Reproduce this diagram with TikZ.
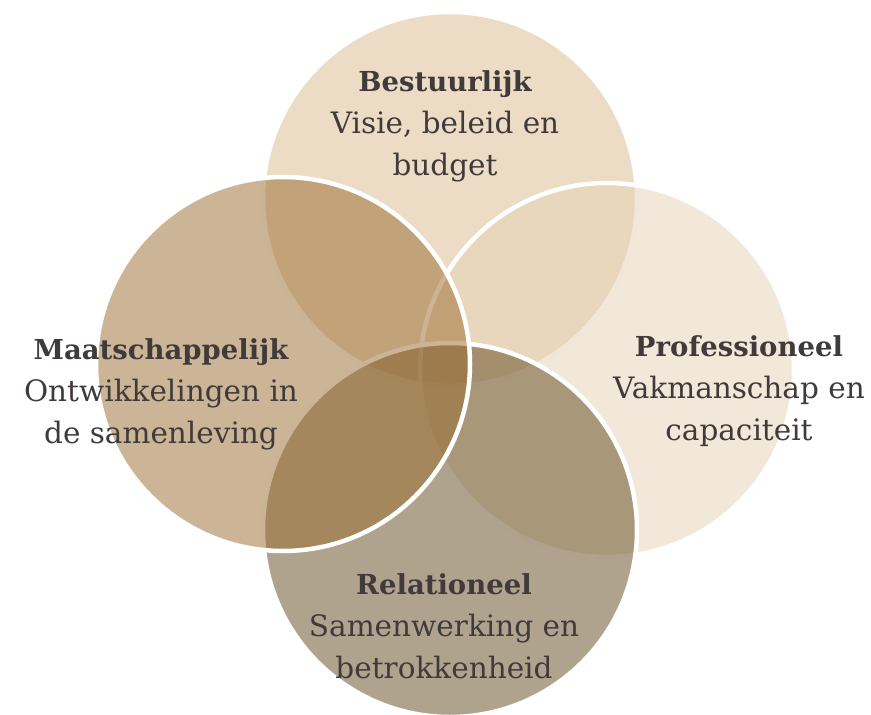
\documentclass[tikz,border=0pt]{standalone}
\usepackage{fontspec}
\setmainfont{DejaVu Serif}

\definecolor{inkgrey}{HTML}{403B3A}
\definecolor{bestuurcol}{HTML}{D9B98D}
\definecolor{profcol}{HTML}{E5D1B5}
\definecolor{relcol}{HTML}{61471D}
\definecolor{maatcol}{HTML}{996B2D}

\newcommand{\headline}[1]{{\fontsize{27.5}{42}\selectfont\bfseries #1}}

\tikzset{
  disc/.style={circle, draw=white, line width=4.5pt, fill opacity=0.5,
    minimum size=374pt, inner sep=0pt},
  blurb/.style={text=inkgrey, align=center, anchor=base,
    font=\fontsize{29.5}{42}\selectfont},
}

\begin{document}
\begin{tikzpicture}[x=1pt, y=-1pt]
  \useasboundingbox (0,0) rectangle (871,715);

  % circles, back to front
  \node[disc, fill=bestuurcol] (bestuur) at (450,199) {};
  \node[disc, fill=profcol] (prof) at (607,370) {};
  \node[disc, fill=relcol] (rel) at (450,530) {};
  \node[disc, fill=maatcol] (maat) at (283,364) {};

  % labels (base = last line)
  \node[blurb] (bestuurtxt) at (445,175) {\headline{Bestuurlijk}\\Visie, beleid en\\budget};
  \node[blurb] (maattxt) at (161,443) {\headline{Maatschappelijk}\\Ontwikkelingen in\\de samenleving};
  \node[blurb] (proftxt) at (739,440) {\headline{Professioneel}\\Vakmanschap en\\capaciteit};
  \node[blurb] (reltxt) at (444,678) {\headline{Relationeel}\\Samenwerking en\\betrokkenheid};
\end{tikzpicture}
\end{document}
